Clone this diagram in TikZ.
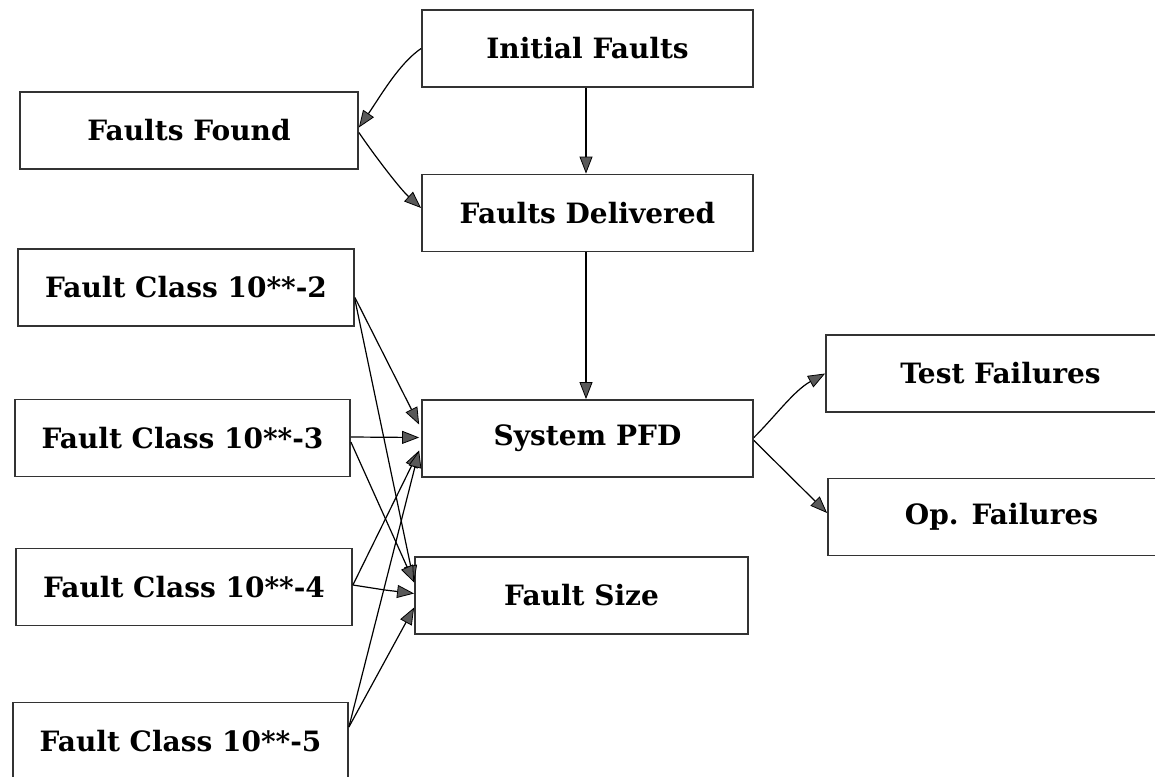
\documentclass[tikz,border=0pt]{standalone}
\usepackage{fontspec}
\setmainfont{DejaVu Serif}
\usetikzlibrary{arrows.meta,calc}
\begin{document}
\begin{tikzpicture}[x=1pt,y=-1pt,
  box/.style={draw=black!80, line width=1.8pt, rectangle, inner sep=0pt,
    minimum height=77pt, font=\bfseries\fontsize{28}{32}\selectfont},
  link/.style={draw=black, line width=1.2pt,
    -{Triangle[length=17pt,width=13pt,fill=black!65,line width=0.8pt]}}]
\useasboundingbox (0,0) rectangle (1155,776);
\clip (0,0) rectangle (1155,776);

% upper chain
\node[box, minimum width=331pt] (init)  at (587.5,48.5) {Initial Faults};
\node[box, minimum width=338pt] (found) at (189,130.5)  {Faults Found};
\node[box, minimum width=331pt] (deliv) at (587.5,213)  {Faults Delivered};

% fault classes
\node[box, minimum width=336pt] (fc2) at (186,287.5) {Fault Class 10**-2};
\node[box, minimum width=335pt] (fc3) at (182.5,438) {Fault Class 10**-3};
\node[box, minimum width=336pt] (fc4) at (184,587)   {Fault Class 10**-4};
\node[box, minimum width=335pt] (fc5) at (180.5,741) {Fault Class 10**-5};

% central and output nodes
\node[box, minimum width=331pt] (pfd)  at (587.5,438.5) {System PFD};
\node[box, minimum width=333pt] (size) at (581.5,595.5) {Fault Size};
\node[box, minimum width=349pt] (test) at (1000.5,373.5) {Test Failures};
\node[box, minimum width=347pt] (op)   at (1001.5,517)   {Op. Failures};

% connectors in the upper chain
\draw[link] (init.west) .. controls ($(init.west)+(-22,15)$) and ($(found.east)+(22,-35)$) .. ($(found.east)+(0,-3)$);
\draw[link] ($(found.east)+(0,2)$) .. controls ($(found.east)+(12,20)$) and ($(deliv.west)+(-22,-25)$) .. ($(deliv.west)+(0,-5)$);
\draw[link] ($(init.south)+(-1.5,0)$) -- ($(deliv.north)+(-1.5,0)$);
\draw[link] ($(deliv.south)+(-1.5,0)$) -- ($(pfd.north)+(-1.5,0)$);

% outputs of System PFD
\draw[link] ($(pfd.east)+(0,-1)$) .. controls ($(pfd.east)+(22,-23)$) and ($(test.west)+(-31,17)$) .. (test.west);
\draw[link] ($(pfd.east)+(0,2)$) -- ($(op.west)+(0,-4)$);

% fault classes into System PFD and Fault Size
\coordinate (pt) at ($(pfd.west)+(-2,-14)$);
\coordinate (pm) at ($(pfd.west)+(-2,-1)$);
\coordinate (pb) at ($(pfd.west)+(-2,12)$);
\coordinate (st) at ($(size.west)+(0,-13)$);
\coordinate (sm) at ($(size.west)+(0,-2)$);
\coordinate (sb) at ($(size.west)+(0,12)$);

\draw[link] ($(fc2.east)+(0,10)$) -- (pt);
\draw[link] ($(fc2.east)+(0,12)$) -- (st);
\draw[link] ($(fc3.east)+(0,-1)$) -- (pm);
\draw[link] ($(fc3.east)+(0,4)$) -- (st);
\draw[link] ($(fc4.east)+(0,-2)$) -- (pb);
\draw[link] ($(fc4.east)+(0,-2)$) -- ($(fc4.east)+(32,3)$) -- (sm);
\draw[link] ($(fc5.east)+(0,-14)$) -- (pb);
\draw[link] ($(fc5.east)+(0,-14)$) -- (sb);
\end{tikzpicture}
\end{document}
